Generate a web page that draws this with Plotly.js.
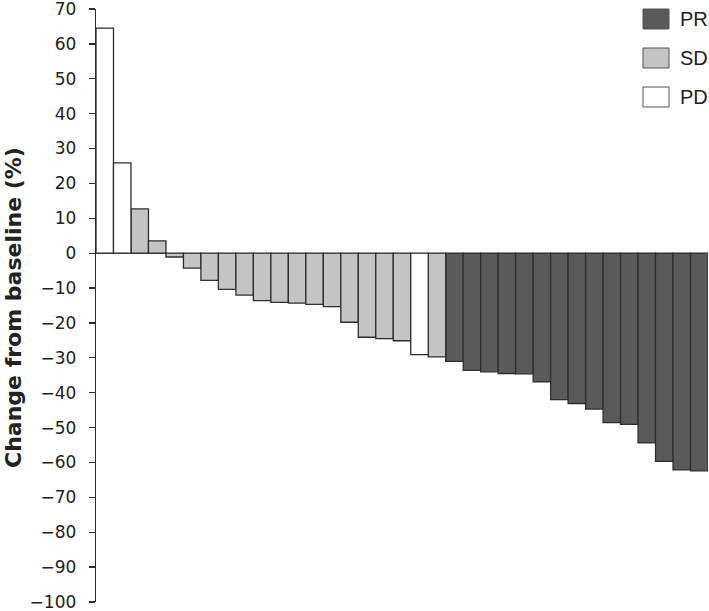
<!DOCTYPE html>
<html>
<head>
<meta charset="utf-8">
<script src="https://cdn.plot.ly/plotly-3.0.1.min.js"></script>
<style>
  body { margin: 0; background: #fff; }
  #myDiv { width: 709px; height: 611px; }
</style>
</head>
<body>
<div id="myDiv"></div>
<script>

/*******************************************************************************************
										Data
*******************************************************************************************/

var patientIndex = [];
for (var i = 0; i < 35; i++) { patientIndex.push(i); }

var changeFromBaseline = [64.5, 25.9, 12.7, 3.5, -1.1, -4.3, -7.8, -10.4, -12.0, -13.6,
	-14.1, -14.3, -14.7, -15.3, -19.8, -24.1, -24.5, -25.1, -29.1, -29.7,
	-31.0, -33.6, -34.0, -34.5, -34.6, -36.9, -42.0, -43.1, -44.7, -48.6,
	-49.1, -54.4, -59.7, -62.1, -62.4];

var bestResponse = ["PD", "PD", "SD", "SD", "SD", "SD", "SD", "SD", "SD", "SD",
	"SD", "SD", "SD", "SD", "SD", "SD", "SD", "SD", "PD", "SD",
	"PR", "PR", "PR", "PR", "PR", "PR", "PR", "PR", "PR", "PR",
	"PR", "PR", "PR", "PR", "PR"];

var responseGroups = ["PR", "SD", "PD"];
var groupColors = {PR: "#5a5a5a", SD: "#c4c4c4", PD: "#ffffff"};

var yTicks = [70, 60, 50, 40, 30, 20, 10, 0, -10, -20, -30, -40, -50, -60, -70, -80, -90, -100];
var yTitle = "Change from baseline (%)";


/*******************************************************************************************
										Traces
*******************************************************************************************/

function create_trace(group){
	var x1 = [];
	var y1 = [];
	for (var i = 0; i < changeFromBaseline.length; i++) {
		if (bestResponse[i] === group) {
			x1.push(patientIndex[i]);
			y1.push(changeFromBaseline[i]);
		}
	}
	return {
		x: x1,
		y: y1,
		name: group,
		type: "bar",
		width: 1,
		marker: {
			color: groupColors[group],
			line: {color: "#2e2e2e", width: 1.3}
		},
		hoverinfo: "y",
		showlegend: false
	};
}


/************************ legend drawn as boxes + text, plus y title *************************/
function legend_items(){
	var shapes = [];
	var annotations = [];
	// plot area is 612 x 593 px, boxes are 26 x 20 px, 39 px apart
	for (var k = 0; k < responseGroups.length; k++) {
		var top = 1 - (k * 39) / 593;
		shapes.push({
			type: "rect", xref: "paper", yref: "paper",
			x0: 0.8938, x1: 0.9363, y0: top - 20 / 593, y1: top,
			fillcolor: groupColors[responseGroups[k]],
			line: {color: "#555", width: 1}
		});
		annotations.push({
			xref: "paper", yref: "paper",
			x: 0.951, y: top - 10 / 593,
			xanchor: "left", yanchor: "middle",
			text: responseGroups[k], showarrow: false,
			font: {family: "Liberation Sans, Arial, sans-serif", size: 20, color: "#222"}
		});
	}
	// rotated axis title
	annotations.push({
		xref: "paper", yref: "paper",
		x: -0.134, y: 0.4975,
		xanchor: "center", yanchor: "middle",
		textangle: -90,
		text: "<b>" + yTitle + "</b>", showarrow: false,
		font: {family: "DejaVu Sans, sans-serif", size: 22, color: "#222"}
	});
	return {shapes: shapes, annotations: annotations};
}


function plot_waterfall(){
	var data = [];
	for (var g of responseGroups) {
		data.push(create_trace(g));
	}
	var leg = legend_items();
	var layout = {
		width: 709,
		height: 611,
		margin: {l: 96, r: 1, t: 9, b: 9},
		paper_bgcolor: "#fff",
		plot_bgcolor: "#fff",
		barmode: "overlay",
		bargap: 0,
		font: {family: "Liberation Sans, Arial, sans-serif", color: "#222"},
		xaxis: {
			range: [-0.5, 34.5],
			visible: false,
			fixedrange: true
		},
		yaxis: {
			range: [-100, 70],
			tickvals: yTicks,
			showgrid: false,
			zeroline: true,
			zerolinecolor: "#2e2e2e",
			zerolinewidth: 1.3,
			showline: true,
			linecolor: "#2e2e2e",
			linewidth: 1.3,
			ticks: "outside",
			ticklen: 6,
			tickwidth: 1.3,
			tickcolor: "#2e2e2e",
			ticklabelstandoff: 9,
			ticklabeloverflow: "allow",
			tickfont: {family: "DejaVu Sans, sans-serif", size: 17, color: "#222"}
		},
		shapes: leg.shapes,
		annotations: leg.annotations
	};
	var config = {responsive: false, displayModeBar: false, staticPlot: true};
	Plotly.newPlot("myDiv", data, layout, config);
}

plot_waterfall();
</script>
</body>
</html>
